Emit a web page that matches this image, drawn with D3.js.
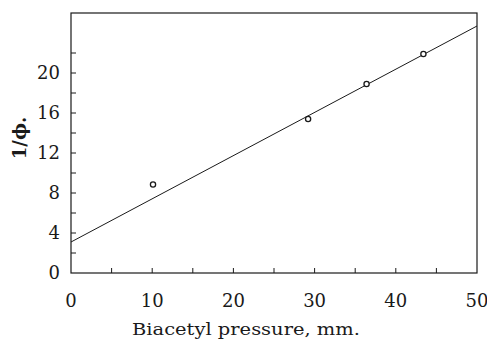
<!DOCTYPE html>
<html>
<head>
<meta charset="utf-8">
<script src="https://cdn.jsdelivr.net/npm/d3@7"></script>
<style>
  body { margin: 0; background: #fff; }
  svg { display: block; }
</style>
</head>
<body>
<div id="chart"></div>
<script>
// measured points (pressure in mm, 1/phi)
const pressure = [10.1, 29.2, 36.4, 43.4];
const invPhi = [8.85, 15.4, 18.9, 21.9];

// fitted straight line
const fitX = [0, 50];
const fitY = [3.1, 24.7];

const xTickLabels = [0, 10, 20, 30, 40, 50];
const yTickLabels = [0, 4, 8, 12, 16, 20];

const width = 487, height = 341;
const margin = { top: 13, right: 10, bottom: 68, left: 71 };

const svg = d3.select('#chart')
  .append('svg')
  .attr('width', width)
  .attr('height', height);

const x = d3.scaleLinear()
  .domain([0, 50])
  .range([margin.left, width - margin.right]);

const y = d3.scaleLinear()
  .domain([0, 26])
  .range([height - margin.bottom, margin.top]);

const ink = '#1a1a1a';
const serif = '"DejaVu Serif", "Liberation Serif", serif';

// frame
svg.append('rect')
  .attr('x', x(0))
  .attr('y', y(26))
  .attr('width', x(50) - x(0))
  .attr('height', y(0) - y(26))
  .attr('fill', 'none')
  .attr('stroke', ink)
  .attr('stroke-width', 1.2);

// inner ticks, x every 5
svg.append('g')
  .selectAll('line')
  .data(d3.range(5, 50, 5))
  .enter()
  .append('line')
  .attr('x1', d => x(d))
  .attr('x2', d => x(d))
  .attr('y1', y(0))
  .attr('y2', y(0) - 5)
  .attr('stroke', ink);

// inner ticks, y every 2
svg.append('g')
  .selectAll('line')
  .data(d3.range(2, 24, 2))
  .enter()
  .append('line')
  .attr('x1', x(0))
  .attr('x2', x(0) + 5)
  .attr('y1', d => y(d))
  .attr('y2', d => y(d))
  .attr('stroke', ink);

// tick labels
svg.append('g')
  .selectAll('text')
  .data(xTickLabels)
  .enter()
  .append('text')
  .attr('x', d => x(d))
  .attr('y', y(0) + 34)
  .attr('text-anchor', 'middle')
  .attr('font-family', serif)
  .attr('font-size', 18)
  .attr('fill', ink)
  .text(d => d);

svg.append('g')
  .selectAll('text')
  .data(yTickLabels)
  .enter()
  .append('text')
  .attr('x', x(0) - 11)
  .attr('y', d => y(d) + 6)
  .attr('text-anchor', 'end')
  .attr('font-family', serif)
  .attr('font-size', 18)
  .attr('fill', ink)
  .text(d => d);

// axis titles
svg.append('text')
  .attr('x', 132)
  .attr('y', 335)
  .attr('textLength', 228)
  .attr('lengthAdjust', 'spacingAndGlyphs')
  .attr('font-family', serif)
  .attr('font-size', 16)
  .attr('fill', ink)
  .text('Biacetyl pressure, mm.');

svg.append('text')
  .attr('transform', 'translate(26,138) rotate(-90)')
  .attr('text-anchor', 'middle')
  .attr('font-family', serif)
  .attr('font-size', 18)
  .attr('font-weight', 'bold')
  .attr('fill', ink)
  .text('1/\u03d5.');

// fit line
const line = d3.line()
  .x(d => x(d[0]))
  .y(d => y(d[1]));

svg.append('path')
  .datum(d3.zip(fitX, fitY))
  .attr('d', line)
  .attr('fill', 'none')
  .attr('stroke', ink)
  .attr('stroke-width', 1);

// data points
svg.append('g')
  .selectAll('circle')
  .data(d3.zip(pressure, invPhi))
  .enter()
  .append('circle')
  .attr('cx', d => x(d[0]))
  .attr('cy', d => y(d[1]))
  .attr('r', 2.6)
  .attr('fill', '#fff')
  .attr('stroke', ink)
  .attr('stroke-width', 1.3);
</script>
</body>
</html>
